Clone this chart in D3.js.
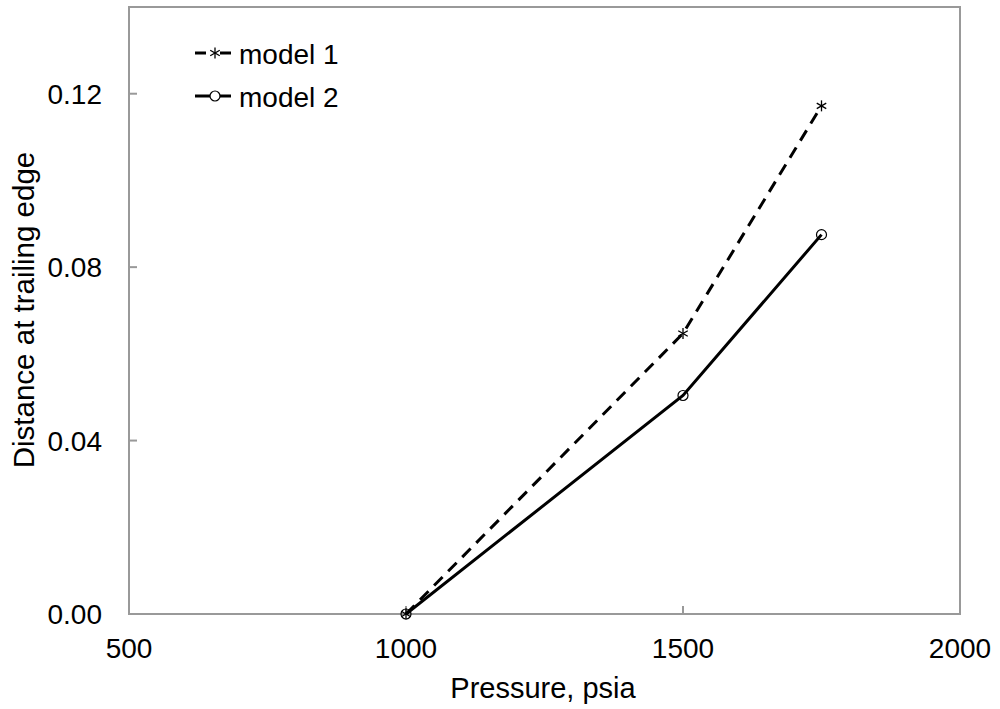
<!DOCTYPE html>
<html>
<head>
<meta charset="utf-8">
<script src="https://cdn.jsdelivr.net/npm/d3@7"></script>
<style>
body { margin: 0; background: #fff; }
text { font-family: "Liberation Sans", Arial, sans-serif; }
</style>
</head>
<body>
<script>
// data
var pressure = [1000, 1500, 1750];
var model1 = [0, 0.0647, 0.1172];
var model2 = [0, 0.0504, 0.0875];
var xTicks = [500, 1000, 1500, 2000];
var yTicks = [0, 0.04, 0.08, 0.12];

var svg = d3.select("body")
    .append("svg")
    .attr("width", 1000)
    .attr("height", 709);

var pLeft = 129, pRight = 960, pTop = 7, pBottom = 614;

let xScale = d3.scaleLinear()
    .domain([500, 2000])
    .range([pLeft, pRight]);

let yScale = d3.scaleLinear()
    .domain([0, 0.14])
    .range([pBottom, pTop]);

// frame
svg.append("rect")
    .attr("x", pLeft)
    .attr("y", pTop)
    .attr("width", pRight - pLeft)
    .attr("height", pBottom - pTop)
    .attr("fill", "none")
    .attr("stroke", "#999")
    .attr("stroke-width", 2);

// y ticks (inside) + labels
svg.selectAll(".ytick")
    .data(yTicks)
    .enter()
    .append("line")
    .attr("x1", pLeft)
    .attr("x2", pLeft + 8)
    .attr("y1", d => yScale(d))
    .attr("y2", d => yScale(d))
    .attr("stroke", "#999")
    .attr("stroke-width", 2);

svg.selectAll(".ylab")
    .data(yTicks)
    .enter()
    .append("text")
    .attr("x", pLeft - 27)
    .attr("y", d => yScale(d) + 10)
    .attr("text-anchor", "end")
    .style("font-size", "28px")
    .text(d => d3.format(".2f")(d));

svg.selectAll(".xtick")
    .data(xTicks)
    .enter()
    .append("line")
    .attr("x1", d => xScale(d))
    .attr("x2", d => xScale(d))
    .attr("y1", pBottom)
    .attr("y2", pBottom - 8)
    .attr("stroke", "#999")
    .attr("stroke-width", 2);

svg.selectAll(".xlab")
    .data(xTicks)
    .enter()
    .append("text")
    .attr("x", d => xScale(d))
    .attr("y", 658)
    .attr("text-anchor", "middle")
    .style("font-size", "28px")
    .text(d => d);

// axis titles
svg.append("text")
    .attr("x", 543)
    .attr("y", 698)
    .attr("text-anchor", "middle")
    .style("font-size", "29px")
    .text("Pressure, psia");

svg.append("text")
    .attr("transform", "translate(34,310) rotate(-90)")
    .attr("text-anchor", "middle")
    .style("font-size", "29.5px")
    .text("Distance at trailing edge");

// lines
let line = d3.line()
    .x(d => xScale(d[0]))
    .y(d => yScale(d[1]));

let pts1 = pressure.map((p, i) => [p, model1[i]]);
let pts2 = pressure.map((p, i) => [p, model2[i]]);

svg.append("path")
    .attr("d", line(pts1))
    .attr("fill", "none")
    .attr("stroke", "#000")
    .attr("stroke-width", 3)
    .attr("stroke-dasharray", "12,8");

svg.append("path")
    .attr("d", line(pts2))
    .attr("fill", "none")
    .attr("stroke", "#000")
    .attr("stroke-width", 3);

function star(g, x, y) {
    let r = 5.5;
    for (let a = 0; a < 3; a++) {
        let ang = Math.PI / 2 + a * Math.PI / 3;
        g.append("line")
            .attr("x1", x - r * Math.cos(ang))
            .attr("y1", y - r * Math.sin(ang))
            .attr("x2", x + r * Math.cos(ang))
            .attr("y2", y + r * Math.sin(ang))
            .attr("stroke", "#000")
            .attr("stroke-width", 1.3);
    }
}

pts1.forEach(d => star(svg, xScale(d[0]), yScale(d[1])));

svg.selectAll(".m2")
    .data(pts2)
    .enter()
    .append("circle")
    .attr("cx", d => xScale(d[0]))
    .attr("cy", d => yScale(d[1]))
    .attr("r", 5)
    .attr("fill", "none")
    .attr("stroke", "#000")
    .attr("stroke-width", 1.2);

// legend
let legend = [["model 1", true], ["model 2", false]];
legend.forEach((d, i) => {
    let ly = 53 + i * 43;
    let l = svg.append("line")
        .attr("x1", 195)
        .attr("x2", 231)
        .attr("y1", ly)
        .attr("y2", ly)
        .attr("stroke", "#000")
        .attr("stroke-width", 3);
    if (d[1]) {
        l.attr("stroke-dasharray", "11,14");
        star(svg, 215, ly);
    } else {
        svg.append("circle")
            .attr("cx", 215)
            .attr("cy", ly)
            .attr("r", 5)
            .attr("fill", "#fff")
            .attr("stroke", "#000")
            .attr("stroke-width", 1.2);
    }
    svg.append("text")
        .attr("x", 239)
        .attr("y", ly + 11)
        .style("font-size", "28px")
        .text(d[0]);
});
</script>
</body>
</html>
